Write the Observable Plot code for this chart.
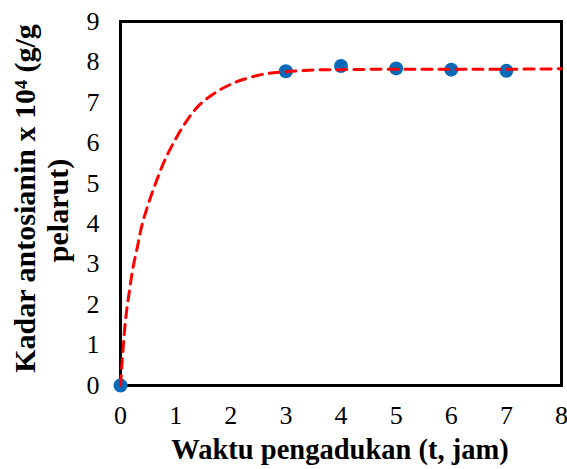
<!DOCTYPE html>
<html>
<head>
<meta charset="utf-8">
<script src="https://cdn.jsdelivr.net/npm/d3@7"></script>
<script src="https://cdn.jsdelivr.net/npm/@observablehq/plot@0.6"></script>
<style>
  html, body { margin: 0; padding: 0; background: #fff; }
</style>
</head>
<body>
<div id="chart"></div>
<script>
// Observed data (t, jam ; Kadar antosianin x 10^4)
const obsT = [0, 3, 4, 5, 6, 7];
const obsY = [0, 7.77, 7.90, 7.84, 7.81, 7.78];

// Model curve
const fitT = [0, 0.03, 0.09, 0.163, 0.224, 0.31, 0.387, 0.508, 0.64, 0.79, 0.97, 1.18, 1.42, 1.72, 2.09, 2.60, 3.0, 3.5, 4, 5, 6, 7, 8];
const fitY = [0, 0.6, 1.6, 2.35, 2.89, 3.45, 3.95, 4.5, 5.01, 5.53, 6.02, 6.5, 6.92, 7.24, 7.50, 7.70, 7.76, 7.80, 7.81, 7.82, 7.82, 7.82, 7.83];

const xTicks = [0, 1, 2, 3, 4, 5, 6, 7, 8];
const yTicks = [0, 1, 2, 3, 4, 5, 6, 7, 8, 9];

const xTitle = "Waktu pengadukan (t, jam)";
const yTitle1 = "Kadar antosianin x 10\u2074 (g/g";
const yTitle2 = "pelarut)";

const obs = obsT.map((t, i) => ({t, y: obsY[i]}));
const fit = fitT.map((t, i) => ({t, y: fitY[i]}));
const serif = "Liberation Serif";

const chart = Plot.plot({
  width: 567,
  height: 469,
  marginLeft: 120,
  marginRight: 6,
  marginTop: 21,
  marginBottom: 84,
  style: {fontFamily: serif, fontSize: "26px", color: "#000", background: "#fff"},
  x: {domain: [0, 8]},
  y: {domain: [0, 9]},
  marks: [
    Plot.axisX({ticks: xTicks, tickSize: 0, tickPadding: 20, fontSize: 26, fontFamily: serif, label: null}),
    Plot.axisY({ticks: yTicks, tickSize: 0, tickPadding: 21, fontSize: 26, fontFamily: serif, label: null}),
    Plot.frame({stroke: "#000", strokeWidth: 3}),
    Plot.dot(obs, {x: "t", y: "y", r: 7, fill: "#0a6ab8", stroke: "none"}),
    Plot.line(fit, {x: "t", y: "y", curve: "catmull-rom", stroke: "#ff0000", strokeWidth: 3, strokeDasharray: "10,7"}),
    Plot.text([xTitle], {frameAnchor: "bottom", lineAnchor: "middle", textAnchor: "middle", dy: 64, dx: -1, text: d => d, fontSize: 28.5, fontWeight: "bold", fontFamily: serif}),
    Plot.text([yTitle1], {frameAnchor: "left", textAnchor: "middle", lineAnchor: "middle", dx: -95, dy: -5, text: d => d, rotate: -90, fontSize: 30, fontWeight: "bold", fontFamily: serif}),
    Plot.text([yTitle2], {frameAnchor: "left", textAnchor: "middle", lineAnchor: "middle", dx: -62, dy: 7, text: d => d, rotate: -90, fontSize: 30, fontWeight: "bold", fontFamily: serif})
  ]
});
document.getElementById("chart").appendChild(chart);
</script>
</body>
</html>
